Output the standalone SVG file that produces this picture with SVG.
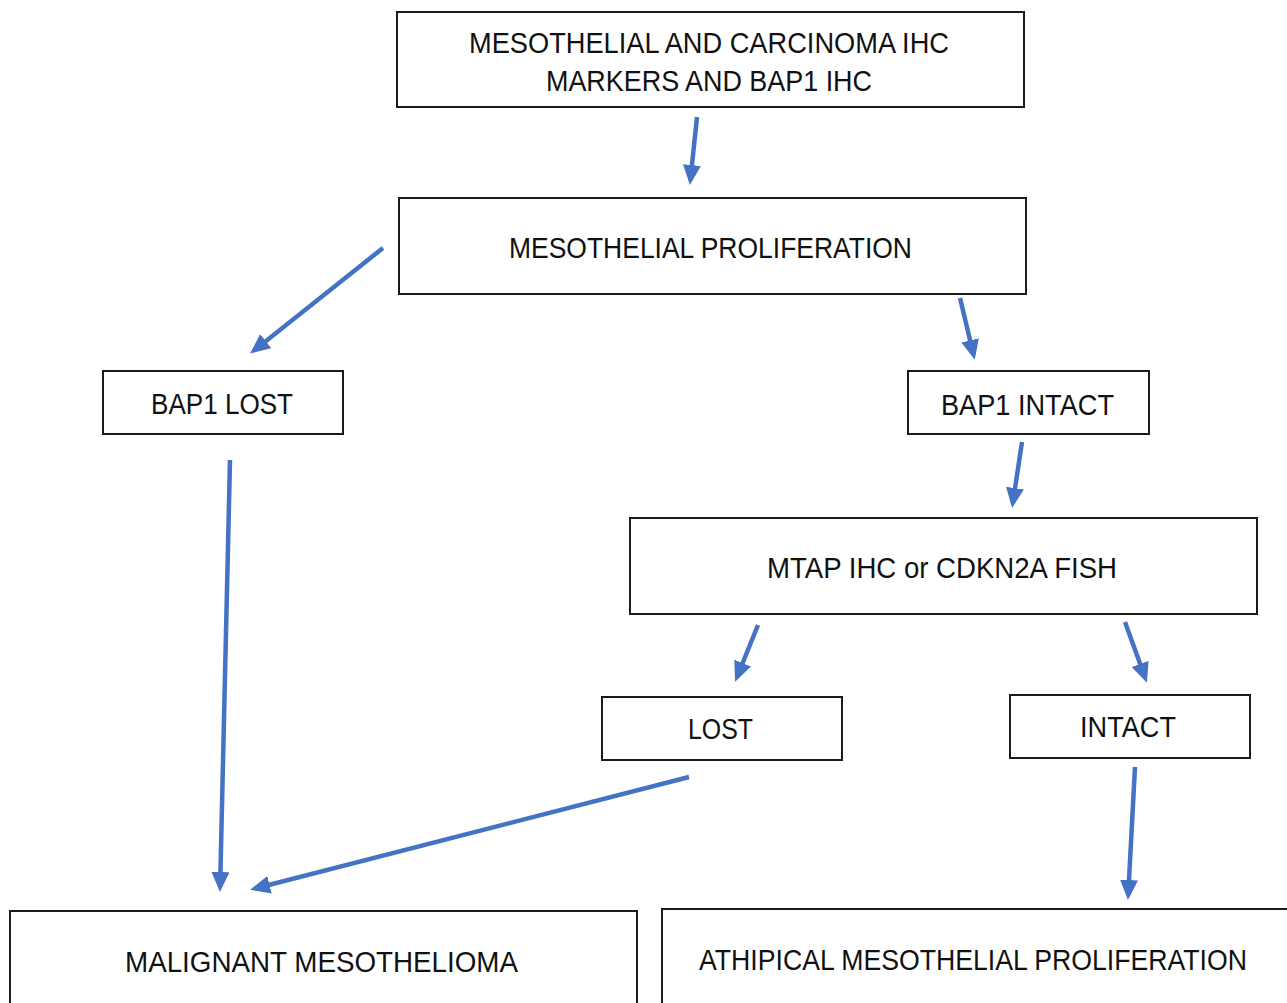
<svg xmlns="http://www.w3.org/2000/svg" width="1287" height="1003" viewBox="0 0 1287 1003">
<defs>
<style>
.box{fill:#fff;stroke:#1a1a1a;stroke-width:2}
.t{font-family:"Liberation Sans",Arial,sans-serif;font-size:30px;fill:#111;text-anchor:middle}
.c{fill:none;stroke:#4472C4;stroke-width:4.5;marker-end:url(#ah)}
</style>
<marker id="ah" markerUnits="userSpaceOnUse" markerWidth="22" markerHeight="20" refX="15" refY="9" orient="auto">
<path d="M0,0 L20,9 L0,18 z" fill="#4472C4"/>
</marker>
</defs>
<rect width="1287" height="1003" fill="#fff"/>
<g id="connectors">
<path class="c" d="M697,117 L690.4,180"/>
<path class="c" d="M383,248 L254,350.5"/>
<path class="c" d="M960,298 L973.6,355"/>
<path class="c" d="M1022,442 L1012.8,503"/>
<path class="c" d="M758,625 L737,677"/>
<path class="c" d="M1125,622 L1145.2,678"/>
<path class="c" d="M230,460 L220.1,887"/>
<path class="c" d="M689,777 L255,888.5"/>
<path class="c" d="M1135,767 L1128.2,895"/>
</g>
<g id="n1">
<rect class="box" x="397" y="12" width="627" height="95"/>
<text class="t" x="709" y="53" textLength="480" lengthAdjust="spacingAndGlyphs">MESOTHELIAL AND CARCINOMA IHC</text>
<text class="t" x="709" y="91" textLength="326" lengthAdjust="spacingAndGlyphs">MARKERS AND BAP1 IHC</text>
</g>
<g id="n2">
<rect class="box" x="399" y="198" width="627" height="96"/>
<text class="t" x="710.5" y="258" textLength="403" lengthAdjust="spacingAndGlyphs">MESOTHELIAL PROLIFERATION</text>
</g>
<g id="n3">
<rect class="box" x="103" y="371" width="240" height="63"/>
<text class="t" x="222" y="414" textLength="142" lengthAdjust="spacingAndGlyphs">BAP1 LOST</text>
</g>
<g id="n4">
<rect class="box" x="908" y="371" width="241" height="63"/>
<text class="t" x="1027.5" y="415" textLength="173" lengthAdjust="spacingAndGlyphs">BAP1 INTACT</text>
</g>
<g id="n5">
<rect class="box" x="630" y="518" width="627" height="96"/>
<text class="t" x="942" y="578" textLength="350" lengthAdjust="spacingAndGlyphs">MTAP IHC or CDKN2A FISH</text>
</g>
<g id="n6">
<rect class="box" x="602" y="697" width="240" height="63"/>
<text class="t" x="720.5" y="739" textLength="65" lengthAdjust="spacingAndGlyphs">LOST</text>
</g>
<g id="n7">
<rect class="box" x="1010" y="695" width="240" height="63"/>
<text class="t" x="1128" y="737" textLength="96" lengthAdjust="spacingAndGlyphs">INTACT</text>
</g>
<g id="n8">
<rect class="box" x="10" y="911" width="627" height="100"/>
<text class="t" x="321.5" y="972" textLength="393" lengthAdjust="spacingAndGlyphs">MALIGNANT MESOTHELIOMA</text>
</g>
<g id="n9">
<rect class="box" x="662" y="909" width="635" height="100"/>
<text class="t" x="973" y="970" textLength="548" lengthAdjust="spacingAndGlyphs">ATHIPICAL MESOTHELIAL PROLIFERATION</text>
</g>
</svg>
